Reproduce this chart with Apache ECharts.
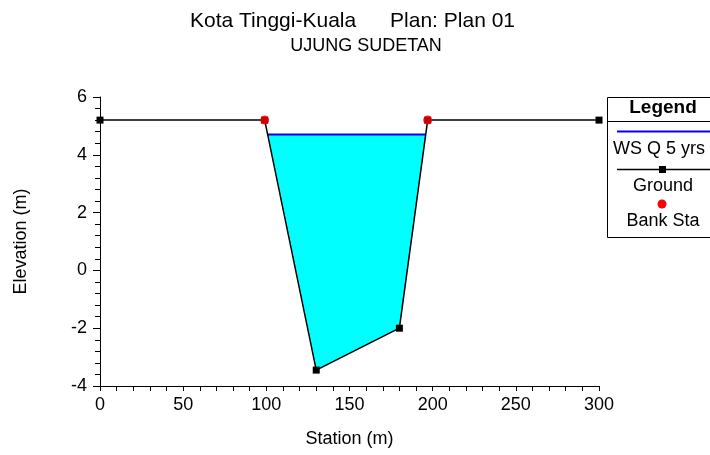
<!DOCTYPE html>
<html>
<head>
<meta charset="utf-8">
<script src="https://cdn.jsdelivr.net/npm/echarts@6/dist/echarts.min.js"></script>
<style>
  html, body { margin: 0; padding: 0; background: #fff; }
  #chart { width: 710px; height: 455px; }
</style>
</head>
<body>
<div id="chart"></div>
<script>
// Cross-section: UJUNG SUDETAN
const groundStation = [0, 99, 130, 180, 197, 300];
const groundElev    = [5.2, 5.2, -3.45, -2.0, 5.2, 5.2];
const bankStation   = [99, 197];
const bankElev      = [5.2, 5.2];
const wsElev        = 4.7;   // WS Q 5 yrs
const xTicks = [0, 50, 100, 150, 200, 250, 300];
const yTicks = [-4, -2, 0, 2, 4, 6];

const FONT = 'Liberation Sans, Arial, sans-serif';

const groundData = groundStation.map((s, i) => [s, groundElev[i]]);
const bankData = bankStation.map((s, i) => [s, bankElev[i]]);

// Wetted polygon: ground points below the water surface, closed at the surface intersections
function waterPolygon() {
  const pts = [];
  for (let i = 0; i < groundData.length - 1; i++) {
    const [x1, y1] = groundData[i], [x2, y2] = groundData[i + 1];
    if (y1 < wsElev) pts.push([x1, y1]);
    if ((y1 - wsElev) * (y2 - wsElev) < 0) {
      const t = (wsElev - y1) / (y2 - y1);
      pts.push([x1 + t * (x2 - x1), wsElev]);
    }
  }
  const last = groundData[groundData.length - 1];
  if (last[1] < wsElev) pts.push(last);
  return pts;
}
const wetPts = waterPolygon();
const wsLine = [wetPts[0], wetPts[wetPts.length - 1]];

const chart = echarts.init(document.getElementById('chart'));
chart.setOption({
  animation: false,
  backgroundColor: '#fff',
  grid: { left: 100, right: 111, top: 97, bottom: 69, containLabel: false },
  xAxis: {
    type: 'value', min: 0, max: 300, interval: 50,
    name: 'Station (m)', nameLocation: 'middle', nameGap: 44,
    nameTextStyle: { fontFamily: FONT, fontSize: 18, color: '#000' },
    axisLine: { onZero: false, lineStyle: { color: '#000', width: 1 } },
    axisTick: { length: 5, lineStyle: { color: '#000' } },
    minorTick: { show: true, splitNumber: 5, length: 5, lineStyle: { color: '#000' } },
    axisLabel: { fontFamily: FONT, fontSize: 18, color: '#000', margin: 10 },
    splitLine: { show: false }
  },
  yAxis: {
    type: 'value', min: -4, max: 6, interval: 2,
    name: 'Elevation (m)', nameLocation: 'middle', nameGap: 70, nameRotate: 90,
    nameTextStyle: { fontFamily: FONT, fontSize: 18, color: '#000' },
    axisLine: { show: true, onZero: false, lineStyle: { color: '#000', width: 1 } },
    axisTick: { show: true, length: 7, lineStyle: { color: '#000' } },
    minorTick: { show: true, splitNumber: 5, length: 5, lineStyle: { color: '#000' } },
    axisLabel: { fontFamily: FONT, fontSize: 18, color: '#000', margin: 13 },
    splitLine: { show: false }
  },
  series: [
    {
      type: 'custom', name: 'water', z: 1,
      renderItem: function (params, api) {
        const points = wetPts.map(p => api.coord(p));
        return { type: 'polygon', shape: { points: points },
                 style: { fill: '#00ffff', stroke: 'none' } };
      },
      data: [0]
    },
    {
      type: 'line', name: 'WS Q 5 yrs', data: wsLine, z: 2,
      symbol: 'none', lineStyle: { color: '#0000ff', width: 2 }
    },
    {
      type: 'line', name: 'Ground', data: groundData, z: 3,
      symbol: 'rect', symbolSize: 7,
      itemStyle: { color: '#000' },
      lineStyle: { color: '#000', width: 1.5 }
    },
    {
      type: 'scatter', name: 'Bank Sta', data: bankData, z: 4,
      symbol: 'circle', symbolSize: 9,
      itemStyle: { color: '#ff0000' }
    }
  ],
  graphic: [
    // titles
    { type: 'text', x: 190, y: 21, z: 11,
      style: { text: 'Kota Tinggi-Kuala', font: '21px ' + FONT, fill: '#000', verticalAlign: 'middle' } },
    { type: 'text', x: 515, y: 21, z: 11,
      style: { text: 'Plan: Plan 01', font: '21px ' + FONT, fill: '#000', textAlign: 'right', verticalAlign: 'middle' } },
    { type: 'text', x: 366, y: 46, z: 11,
      style: { text: 'UJUNG SUDETAN', font: '18px ' + FONT, fill: '#000', textAlign: 'center', verticalAlign: 'middle' } },
    // legend box
    { type: 'rect', shape: { x: 607.5, y: 97.5, width: 120, height: 140 },
      style: { fill: '#fff', stroke: '#000', lineWidth: 1 }, z: 10 },
    { type: 'text', x: 663, y: 108, z: 11,
      style: { text: 'Legend', font: 'bold 19px ' + FONT, fill: '#000', textAlign: 'center', verticalAlign: 'middle' } },
    { type: 'line', shape: { x1: 607, y1: 121.5, x2: 710, y2: 121.5 },
      style: { stroke: '#000', lineWidth: 1 }, z: 11 },
    { type: 'line', shape: { x1: 617, y1: 131.5, x2: 710, y2: 131.5 },
      style: { stroke: '#0000ff', lineWidth: 2 }, z: 11 },
    { type: 'text', x: 613, y: 149, z: 11,
      style: { text: 'WS Q 5 yrs', font: '18px ' + FONT, fill: '#000', verticalAlign: 'middle' } },
    { type: 'line', shape: { x1: 617, y1: 169.5, x2: 710, y2: 169.5 },
      style: { stroke: '#000', lineWidth: 1.5 }, z: 11 },
    { type: 'rect', shape: { x: 659, y: 166, width: 7, height: 7 },
      style: { fill: '#000' }, z: 12 },
    { type: 'text', x: 663, y: 186, z: 11,
      style: { text: 'Ground', font: '18px ' + FONT, fill: '#000', textAlign: 'center', verticalAlign: 'middle' } },
    { type: 'circle', shape: { cx: 662, cy: 204, r: 4.5 },
      style: { fill: '#ff0000' }, z: 11 },
    { type: 'text', x: 663, y: 221, z: 11,
      style: { text: 'Bank Sta', font: '18px ' + FONT, fill: '#000', textAlign: 'center', verticalAlign: 'middle' } }
  ]
});
</script>
</body>
</html>
